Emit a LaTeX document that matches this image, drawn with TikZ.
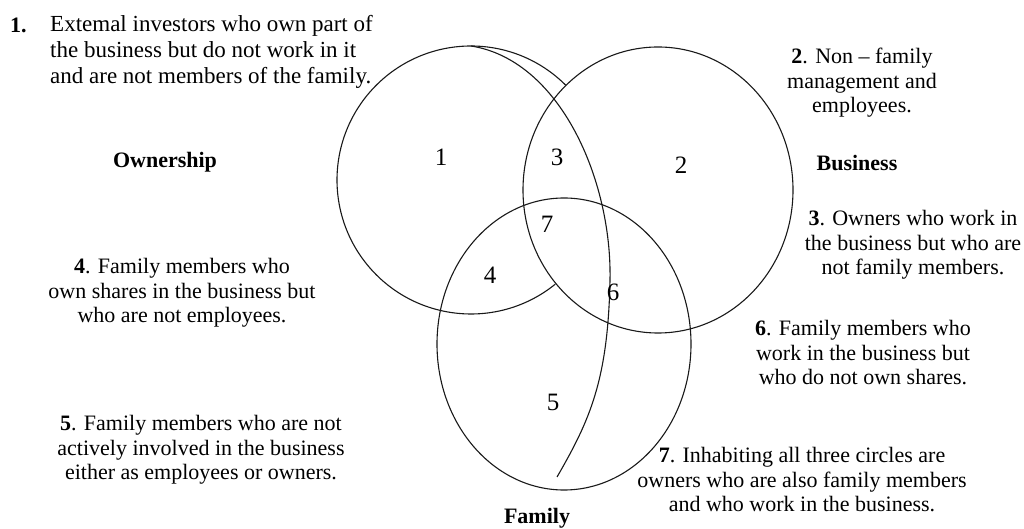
\documentclass[tikz,border=0pt]{standalone}
\usepackage{fontspec}
\setmainfont{Liberation Serif}
\usepackage{xcolor}
\usetikzlibrary{positioning}
\definecolor{VennLine}{RGB}{25, 25, 25}
\definecolor{VennText}{RGB}{0, 0, 0}

\begin{document}
\begin{tikzpicture}[x=1pt,y=1pt,
  ring/.style={VennLine, line width=1.1pt},
  note/.style={align=center, inner sep=0pt, text=VennText, font=\fontsize{22}{24.5}\selectfont},
  title/.style={inner sep=0pt, text=VennText, font=\fontsize{22}{24}\selectfont\bfseries},
  region/.style={inner sep=0pt, text=VennText, font=\fontsize{25}{28}\selectfont}]
  \path[use as bounding box] (0,0) rectangle (1024,529);

  % Circles
  \coordinate (own) at (471,349);
  \coordinate (bus) at (658,339);
  \coordinate (fam) at (564,185);
  \coordinate (ownTop) at (471,483);
  \coordinate (famTip) at (557,52);
  \draw[ring] (own) ++(45:134) arc[start angle=45, end angle=309, radius=134];
  \draw[ring] (ownTop) .. controls (560,469) and (612,349) .. (610,249)
    .. controls (608,149) and (590,109) .. (famTip);
  \draw[ring] (bus) ellipse[x radius=135, y radius=143];
  \draw[ring] (fam) ellipse[x radius=127, y radius=146];

  % Regions
  \node[region] (r1) at (441,372) {1};
  \node[region] (r2) at (681,364) {2};
  \node[region] (r3) at (557,372) {3};
  \node[region] (r4) at (490,254) {4};
  \node[region] (r5) at (553,127) {5};
  \node[region] (r6) at (613,237) {6};
  \node[region] (r7) at (547,305) {7};

  % Titles
  \node[title] (ownership) at (165,367) {Ownership};
  \node[title] (business) at (857,366) {Business};
  \node[title] (family) at (537,11) {Family};

  % Notes
  \node[title, anchor=west] (n1) at (10,504) {1.};
  \node[note, align=left, anchor=west, font=\fontsize{23}{26}\selectfont] (t1) at (50,477) {
    Extemal investors who own part of\\
    the business but do not work in it\\
    and are not members of the family.};
  \node[note] (t2) at (862,446) {
    \textbf{2}. Non – family\\
    management and\\
    employees.};
  \node[note] (t3) at (913,284) {
    \textbf{3}. Owners who work in\\
    the business but who are\\
    not family members.};
  \node[note] (t4) at (182,236) {
    \textbf{4}. Family members who\\
    own shares in the business but\\
    who are not employees.};
  \node[note] (t5) at (201,79) {
    \textbf{5}. Family members who are not\\
    actively involved in the business\\
    either as employees or owners.};
  \node[note] (t6) at (863,176) {
    \textbf{6}. Family members who\\
    work in the business but\\
    who do not own shares.};
  \node[note] (t7) at (802,49) {
    \textbf{7}. Inhabiting all three circles are\\
    owners who are also family members\\
    and who work in the business.};
\end{tikzpicture}
\end{document}
